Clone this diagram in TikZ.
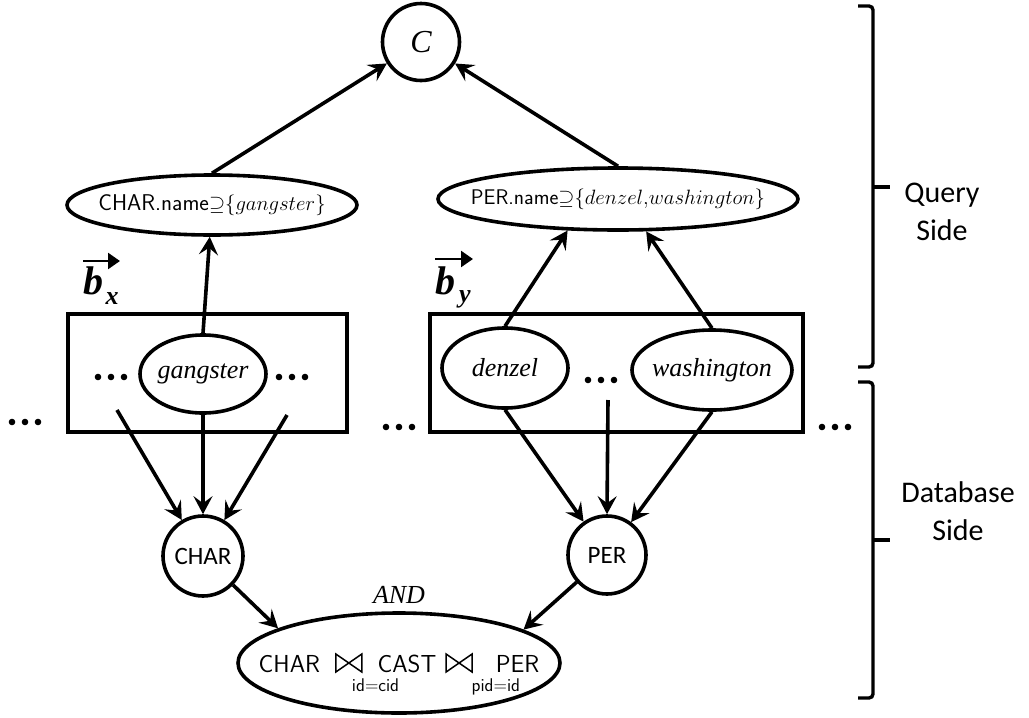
\documentclass[tikz,border=0pt]{standalone}
\usepackage{fontspec}
\usetikzlibrary{shapes.geometric,arrows.meta}
\newfontfamily\tms{Liberation Serif}
\newfontfamily\carl{Carlito}
\newcommand\zw[1]{\makebox[0pt]{#1}}
\newcommand\jsub[2]{\rlap{\hspace{#1}\makebox[0pt]{\smash{\raisebox{-19pt}{\fontsize{18.4}{18.4}\selectfont #2}}}}}
\newcommand\bigjoin{\tikz[baseline=0pt]{\draw[line width=1.5pt,line join=miter] (0pt,0pt) -- (0pt,18pt) -- (26pt,0pt) -- (26pt,18pt) -- cycle;}}
\newcommand\threedots{\tikz[baseline=-3pt]{\fill (0pt,0pt) circle[radius=3.3pt] (13pt,0pt) circle[radius=3.3pt] (26pt,0pt) circle[radius=3.3pt];}}
\begin{document}
\begin{tikzpicture}[x=1pt,y=-1pt,line width=3.6pt,
  ar/.style={-{Stealth[length=18pt,width=19pt,inset=7pt]},line width=3.6pt},
  ell/.style={draw,ellipse,inner sep=0pt,line width=3.6pt,fill=white},
  circ/.style={draw,circle,inner sep=0pt,line width=3.6pt,fill=white},
  itword/.style={font=\tms\itshape\fontsize{26}{26}\selectfont},
  dotsty/.style={inner sep=0pt},
  bold/.style={font=\tms\bfseries\itshape\fontsize{40}{40}\selectfont,inner sep=0pt},
  boldsub/.style={font=\tms\bfseries\itshape\fontsize{26}{26}\selectfont,inner sep=0pt},
  vecar/.style={-{Triangle[length=12pt,width=16pt]},line width=2.4pt},
  brace/.style={line width=3.4pt,rounded corners=4pt},
  side/.style={font=\carl\fontsize{30}{38}\selectfont,align=center}]
\useasboundingbox (0,0) rectangle (1029,718);

% top
\node[circ,minimum size=77pt,font=\tms\itshape\fontsize{32}{32}\selectfont] (C) at (421,42) {C};
\node[ell,minimum width=290pt,minimum height=60pt,font=\sffamily\fontsize{22.8}{22.8}\selectfont] (charname) at (212,205) {\zw{CHAR.name$\mathord{\supseteq}\{gangster\}$}};
\node[ell,minimum width=360pt,minimum height=62pt,font=\sffamily\fontsize{21.2}{21.2}\selectfont] (pername) at (618,199) {\zw{PER.name$\mathord{\supseteq}\{denzel{,}washington\}$}};

% vectors
\node[bold] (bx) at (93,281) {b};
\node[boldsub] (bxs) at (112,299) {x};
\draw[vecar] (83,261) -- (120,261);
\node[bold] (by) at (445,281) {b};
\node[boldsub] (bys) at (465,299) {y};
\draw[vecar] (435,259) -- (473,259);

% boxes
\node[draw,line width=3.4pt,minimum width=279pt,minimum height=118pt,inner sep=0pt] (boxx) at (207.5,373) {};
\node[draw,line width=3.4pt,minimum width=373pt,minimum height=118pt,inner sep=0pt] (boxy) at (616.5,373) {};
\node[ell,minimum width=126pt,minimum height=78pt,itword] (gang) at (203,374) {\zw{gangster}};
\node[ell,minimum width=126pt,minimum height=80pt,itword] (denzel) at (505,368) {\zw{denzel}};
\node[ell,minimum width=160pt,minimum height=80pt,itword] (wash) at (712,370) {\zw{washington}};

% dots
\node[dotsty] (d1) at (111,377) {\threedots};
\node[dotsty] (d2) at (292,377) {\threedots};
\node[dotsty] (d3) at (25,422) {\threedots};
\node[dotsty] (d4) at (399,427) {\threedots};
\node[dotsty] (d5) at (601,380) {\threedots};
\node[dotsty] (d6) at (835,427) {\threedots};

\coordinate (xl) at (117,410);
\coordinate (xr) at (287,415);
\coordinate (ym) at (608,400);

% database side
\node[circ,minimum size=80pt,font=\carl\fontsize{25}{25}\selectfont] (CHAR) at (203,556) {CHAR};
\node[circ,minimum size=78pt,font=\carl\fontsize{25}{25}\selectfont] (PER) at (607,555) {PER};
\node[itword] (and) at (399,595) {AND};
\node[ell,minimum width=322pt,minimum height=100pt,font=\sffamily\fontsize{24.6}{24.6}\selectfont] (join) at (399,663)
  {\zw{CHAR\hspace{15pt}\bigjoin\jsub{13pt}{id=cid}\hspace{15pt}CAST\hspace{9pt}\bigjoin\jsub{23pt}{pid=id}\hspace{23pt}PER}};

% connectors
\draw[ar] (charname.north) -- (C);
\draw[ar] (pername.north) -- (C);
\draw[ar] (gang.north) -- (charname);
\draw[ar] (denzel.north) -- (pername.212);
\draw[ar] (wash.north) -- (pername.-49);
\draw[ar] (xl) -- (CHAR);
\draw[ar] (gang.south) -- (CHAR.north);
\draw[ar] (xr) -- (CHAR);
\draw[ar] (denzel.south) -- (PER);
\draw[ar] (ym) -- (PER.north);
\draw[ar] (wash.south) -- (PER);
\draw[ar] (CHAR) -- (join.164);
\draw[ar] (PER) -- (join.15);

% braces
\draw[brace] (858,6) -- (873,6) -- (873,367) -- (858,367);
\draw[brace] (873,187) -- (890,187);
\draw[brace] (858,382) -- (873,382) -- (873,698) -- (858,698);
\draw[brace] (873,540) -- (890,540);
\node[side] (qs) at (942,212) {Query\\Side};
\node[side] (ds) at (958,511) {Database\\Side};
\end{tikzpicture}
\end{document}
